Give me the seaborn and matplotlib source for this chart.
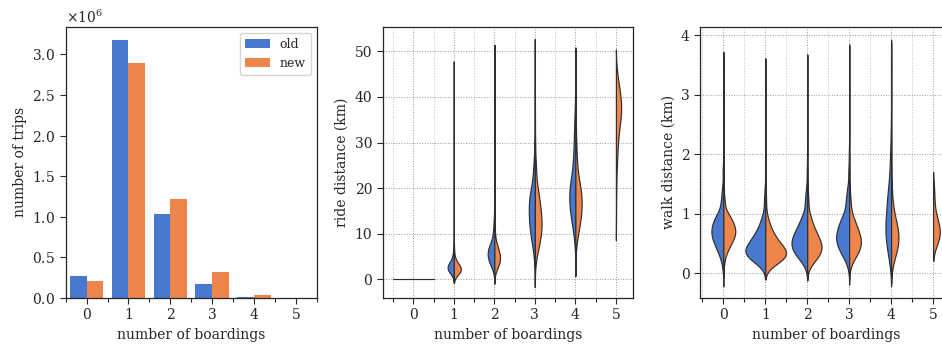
import numpy as np
import pandas as pd
import matplotlib
matplotlib.use("Agg")
import matplotlib.pyplot as plt
from matplotlib.ticker import FixedLocator
import seaborn as sns

sns.set_style("ticks")
plt.rcParams["font.family"] = ["DejaVu Serif"]
plt.rcParams["mathtext.fontset"] = "dejavuserif"

boardings = [0, 1, 2, 3, 4, 5]
networks = ["old", "new"]
colors = ["#4878d0", "#ee854a"]

# number of trips per boardings count
trips_old = [266000, 3176000, 1037000, 176000, 12000, 0]
trips_new = [213000, 2897000, 1221000, 315000, 42000, 4000]

# ride distance (km): observed values and how many trips have them, per boardings count
ride_km = [
    [0.0],
    [1, 1.5, 2, 2.5, 3, 3.5, 4, 5, 6, 7, 9, 12, 16, 22, 30, 38, 46],
    [1.5, 2, 3, 4, 5, 6, 7, 8, 10, 12, 14, 17, 21, 26, 32, 39, 45, 49],
    [2, 4, 6, 8, 10, 12, 14, 16, 18, 20, 23, 26, 30, 35, 40, 45, 49],
    [5.5, 8, 10, 12, 14, 16, 18, 20, 22, 25, 28, 31, 34, 37, 41, 46],
    [14, 20, 25, 28, 31, 34, 36, 38, 40, 42, 44, 45],
]
ride_old_n = [
    [60],
    [20, 60, 100, 110, 95, 70, 50, 35, 22, 12, 4, 2, 1, 1, 1, 1, 1],
    [1, 15, 45, 80, 100, 95, 80, 60, 40, 22, 12, 6, 3, 2, 1, 1, 1, 1],
    [1, 5, 15, 30, 45, 55, 60, 62, 55, 45, 30, 18, 8, 3, 2, 1, 1],
    [1, 3, 8, 15, 22, 28, 30, 28, 24, 18, 13, 10, 8, 5, 2, 1],
    [],
]
ride_new_n = [
    [50],
    [35, 90, 120, 100, 70, 45, 30, 18, 9, 5, 2, 1, 1, 1, 1, 1, 1],
    [1, 25, 70, 105, 100, 80, 55, 38, 22, 12, 6, 3, 2, 1, 1, 1, 1, 1],
    [1, 8, 25, 45, 60, 65, 60, 50, 40, 30, 20, 12, 6, 3, 1, 1, 1],
    [1, 5, 12, 20, 27, 30, 29, 24, 18, 12, 8, 5, 3, 2, 1, 1],
    [1, 2, 3, 4, 6, 8, 10, 11, 9, 6, 3, 1],
]

# walk distance (km)
walk_km = [
    [0.0, 0.1, 0.2, 0.3, 0.4, 0.5, 0.6, 0.7, 0.8, 0.9, 1.0, 1.2, 1.4, 1.7, 2.0, 2.5, 3.0, 3.5],
    [0.1, 0.2, 0.3, 0.4, 0.5, 0.6, 0.7, 0.8, 0.9, 1.0, 1.2, 1.4, 1.7, 2.0, 2.5, 3.0, 3.4],
    [0.1, 0.2, 0.3, 0.4, 0.5, 0.6, 0.7, 0.8, 0.9, 1.0, 1.2, 1.4, 1.7, 2.0, 2.5, 3.0, 3.45],
    [0.05, 0.1, 0.2, 0.3, 0.4, 0.5, 0.6, 0.7, 0.8, 0.9, 1.0, 1.2, 1.4, 1.7, 2.0, 2.5, 3.0, 3.6],
    [0.2, 0.3, 0.4, 0.5, 0.6, 0.7, 0.8, 0.9, 1.0, 1.2, 1.4, 1.7, 2.0, 2.4, 3.0, 3.5],
    [0.5, 0.6, 0.7, 0.8, 0.9, 1.0, 1.2, 1.4],
]
walk_old_n = [
    [2, 4, 10, 20, 35, 50, 62, 68, 62, 50, 38, 26, 16, 9, 4, 1, 1, 1],
    [10, 45, 80, 78, 62, 45, 32, 22, 15, 10, 10, 5, 2, 1, 1, 1, 1],
    [5, 22, 45, 60, 64, 58, 45, 34, 25, 17, 18, 10, 5, 2, 1, 1, 1],
    [1, 3, 12, 28, 42, 52, 55, 50, 42, 33, 25, 28, 18, 9, 4, 1, 1, 1],
    [4, 6, 8, 10, 11, 12, 12, 12, 11, 18, 14, 9, 6, 3, 1, 1],
    [],
]
walk_new_n = [
    [0, 2, 6, 14, 30, 50, 70, 80, 70, 52, 34, 16, 6, 2, 1, 1, 1, 1],
    [14, 60, 85, 72, 52, 36, 25, 16, 10, 6, 6, 3, 1, 1, 1, 1, 1],
    [7, 30, 55, 65, 60, 48, 35, 25, 17, 11, 10, 5, 2, 1, 1, 1, 1],
    [0, 4, 15, 34, 50, 56, 52, 42, 32, 22, 15, 13, 6, 2, 1, 1, 1, 1],
    [4, 9, 13, 16, 17, 15, 12, 9, 6, 6, 3, 1, 1, 1, 1, 1],
    [2, 3, 3, 2, 2, 1, 1, 1],
]

# drawn width of each half violin (old, new), as a fraction of one category slot
ride_widths = [[1.0, 1.0], [0.31, 0.35], [0.33, 0.28], [0.30, 0.33], [0.30, 0.31], [0.26, 0.26]]
walk_widths = [[0.57, 0.57], [0.95, 0.99], [0.75, 0.68], [0.62, 0.56], [0.27, 0.35], [0.32, 0.32]]


def expand(values, old_counts, new_counts, name):
    rows = []
    for b, vals, n_old, n_new in zip(boardings, values, old_counts, new_counts):
        for net, counts in zip(networks, [n_old, n_new]):
            for v, n in zip(vals, counts):
                rows += [(b, net, v)] * n
    return pd.DataFrame(rows, columns=["boardings", "network", name])


def half_violins(ax, df, col, widths):
    for b, pair in zip(boardings, widths):
        for net, w in zip(networks, pair):
            part = df[(df.boardings == b) & (df.network == net)]
            if part.empty:
                continue
            sns.violinplot(data=part, x="boardings", y=col, hue="network",
                           order=boardings, hue_order=networks, palette=colors,
                           split=True, dodge=True, inner=None, saturation=1,
                           density_norm="width", width=w, linecolor="#2e2e2e",
                           linewidth=0.85, legend=False, ax=ax)


ride = expand(ride_km, ride_old_n, ride_new_n, "ride")
walk = expand(walk_km, walk_old_n, walk_new_n, "walk")
bars = pd.DataFrame({
    "boardings": boardings * 2,
    "network": ["old"] * 6 + ["new"] * 6,
    "trips": trips_old + trips_new,
})

fig = plt.figure(figsize=(9.42, 3.49), dpi=100)
ax1 = fig.add_axes([0.0697, 0.1461, 0.2667, 0.7774])
ax2 = fig.add_axes([0.4061, 0.1461, 0.2662, 0.7774])
ax3 = fig.add_axes([0.7434, 0.1461, 0.2667, 0.7774])

sns.barplot(data=bars, x="boardings", y="trips", hue="network", hue_order=networks,
            palette=colors, saturation=1, errorbar=None, linewidth=0, ax=ax1)
h, l = ax1.get_legend_handles_labels()
ax1.legend(h, l, loc="upper right", fontsize=9)
ax1.ticklabel_format(axis="y", useMathText=True)
ax1.set_yticks(np.arange(0, 3.01e6, 0.5e6))
ax1.set_xlim(-0.5, 5.5)
ax1.set_ylim(0, 3.34e6)
ax1.set_ylabel("number of trips")

half_violins(ax2, ride, "ride", ride_widths)
ax2.set_xlim(-0.76, 5.43)
ax2.set_ylim(-4.1, 55.4)
ax2.set_yticks([0, 10, 20, 30, 40, 50])
ax2.set_ylabel("ride distance (km)")

half_violins(ax3, walk, "walk", walk_widths)
ax3.set_xlim(-0.55, 5.44)
ax3.set_ylim(-0.42, 4.14)
ax3.set_yticks([0, 1, 2, 3, 4])
ax3.set_ylabel("walk distance (km)")

for ax in (ax1, ax2, ax3):
    ax.set_xticks(boardings)
    ax.set_xticklabels([str(b) for b in boardings])
    ax.xaxis.set_minor_locator(FixedLocator(np.arange(-0.5, 6, 1.0)))
    ax.tick_params(which="major", length=4, width=0.8)
    ax.tick_params(which="minor", length=2.8, width=0.8)
    ax.set_xlabel("number of boardings")
    for s in ax.spines.values():
        s.set_visible(True)
        s.set_linewidth(0.9)

for ax in (ax2, ax3):
    ax.set_axisbelow(True)
    ax.grid(which="major", ls=":", color="0.6", lw=0.7)
    ax.grid(which="minor", axis="x", ls=":", color="0.75", lw=0.7)

fig.savefig("out.png", dpi=100)
